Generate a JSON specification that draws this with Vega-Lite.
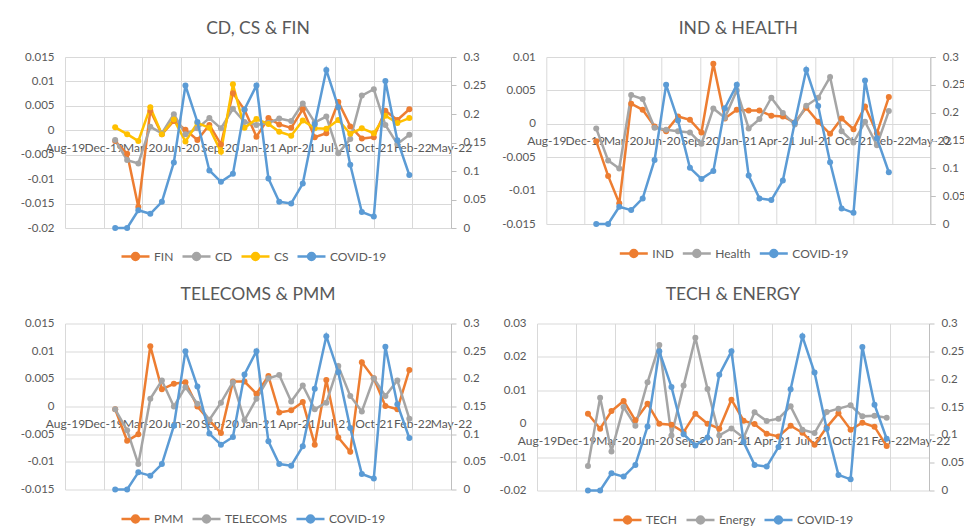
{
"$schema": "https://vega.github.io/schema/vega-lite/v6.json",
"padding": {"left": 20, "top": 19, "right": 5, "bottom": 5},
"background": "white",
"config": {
  "font": "Lato",
  "view": {"stroke": null},
  "axis": {"labelFont": "Lato", "labelFontSize": 11.5, "labelColor": "#595959", "gridColor": "#D9D9D9", "gridWidth": 1, "domain": false, "ticks": false, "tickSize": 0},
  "axisX": {"labelFontSize": 12},
  "legend": {"direction": "horizontal", "labelFont": "Lato", "labelFontSize": 12, "labelColor": "#595959", "symbolType": "M-1,0L1,0M0.25,0A0.25,0.25,0,1,1,-0.25,0A0.25,0.25,0,1,1,0.25,0", "symbolSize": 784, "symbolStrokeWidth": 2.5, "columnPadding": 3, "labelOffset": 3},
  "title": {"font": "Lato", "fontSize": 17.5, "fontWeight": "normal", "color": "#595959", "offset": 14},
  "locale": {"number": {"decimal": ".", "thousands": ",", "grouping": [3], "currency": ["$", ""], "minus": "-"}}
},
"datasets": {
  "covid": [
    {"d":"2019-12-31","s":"COVID-19","v":0},{"d":"2020-01-31","s":"COVID-19","v":0},{"d":"2020-02-29","s":"COVID-19","v":0.031},{"d":"2020-03-31","s":"COVID-19","v":0.025},{"d":"2020-04-30","s":"COVID-19","v":0.046},{"d":"2020-05-31","s":"COVID-19","v":0.115},{"d":"2020-06-30","s":"COVID-19","v":0.25},{"d":"2020-07-31","s":"COVID-19","v":0.186},{"d":"2020-08-31","s":"COVID-19","v":0.101},{"d":"2020-09-30","s":"COVID-19","v":0.081},{"d":"2020-10-31","s":"COVID-19","v":0.095},{"d":"2020-11-30","s":"COVID-19","v":0.208},{"d":"2020-12-31","s":"COVID-19","v":0.25},{"d":"2021-01-31","s":"COVID-19","v":0.087},{"d":"2021-02-28","s":"COVID-19","v":0.046},{"d":"2021-03-31","s":"COVID-19","v":0.043},{"d":"2021-04-30","s":"COVID-19","v":0.078},{"d":"2021-05-31","s":"COVID-19","v":0.182},{"d":"2021-06-30","s":"COVID-19","v":0.277},{"d":"2021-07-31","s":"COVID-19","v":0.212},{"d":"2021-08-31","s":"COVID-19","v":0.111},{"d":"2021-09-30","s":"COVID-19","v":0.028},{"d":"2021-10-31","s":"COVID-19","v":0.02},{"d":"2021-11-30","s":"COVID-19","v":0.258},{"d":"2021-12-31","s":"COVID-19","v":0.154},{"d":"2022-01-31","s":"COVID-19","v":0.093}
  ],
  "p1": [
    {"d":"2019-12-31","s":"FIN","v":-0.0022},{"d":"2020-01-31","s":"FIN","v":-0.0048},{"d":"2020-02-29","s":"FIN","v":-0.0157},{"d":"2020-03-31","s":"FIN","v":0.004},{"d":"2020-04-30","s":"FIN","v":-0.0008},{"d":"2020-05-31","s":"FIN","v":0.0019},{"d":"2020-06-30","s":"FIN","v":0.0001},{"d":"2020-07-31","s":"FIN","v":-0.002},{"d":"2020-08-31","s":"FIN","v":0.0011},{"d":"2020-09-30","s":"FIN","v":-0.0029},{"d":"2020-10-31","s":"FIN","v":0.0076},{"d":"2020-11-30","s":"FIN","v":0.0042},{"d":"2020-12-31","s":"FIN","v":-0.0013},{"d":"2021-01-31","s":"FIN","v":0.0025},{"d":"2021-02-28","s":"FIN","v":0.0012},{"d":"2021-03-31","s":"FIN","v":0.0005},{"d":"2021-04-30","s":"FIN","v":0.0043},{"d":"2021-05-31","s":"FIN","v":-0.0014},{"d":"2021-06-30","s":"FIN","v":-0.0006},{"d":"2021-07-31","s":"FIN","v":0.0058},{"d":"2021-08-31","s":"FIN","v":0.0008},{"d":"2021-09-30","s":"FIN","v":-0.0017},{"d":"2021-10-31","s":"FIN","v":-0.0014},{"d":"2021-11-30","s":"FIN","v":0.004},{"d":"2021-12-31","s":"FIN","v":0.0021},{"d":"2022-01-31","s":"FIN","v":0.0043},
    {"d":"2019-12-31","s":"CD","v":-0.002},{"d":"2020-01-31","s":"CD","v":-0.0061},{"d":"2020-02-29","s":"CD","v":-0.0068},{"d":"2020-03-31","s":"CD","v":0.0007},{"d":"2020-04-30","s":"CD","v":-0.0006},{"d":"2020-05-31","s":"CD","v":0.0033},{"d":"2020-06-30","s":"CD","v":-0.0008},{"d":"2020-07-31","s":"CD","v":0.0004},{"d":"2020-08-31","s":"CD","v":0.0025},{"d":"2020-09-30","s":"CD","v":0.0004},{"d":"2020-10-31","s":"CD","v":0.0044},{"d":"2020-11-30","s":"CD","v":0.0017},{"d":"2020-12-31","s":"CD","v":0.0011},{"d":"2021-01-31","s":"CD","v":0.0015},{"d":"2021-02-28","s":"CD","v":0.0024},{"d":"2021-03-31","s":"CD","v":0.0019},{"d":"2021-04-30","s":"CD","v":0.0055},{"d":"2021-05-31","s":"CD","v":0.0016},{"d":"2021-06-30","s":"CD","v":0.0028},{"d":"2021-07-31","s":"CD","v":-0.0047},{"d":"2021-08-31","s":"CD","v":-0.0018},{"d":"2021-09-30","s":"CD","v":0.0071},{"d":"2021-10-31","s":"CD","v":0.0084},{"d":"2021-11-30","s":"CD","v":0.0011},{"d":"2021-12-31","s":"CD","v":-0.0028},{"d":"2022-01-31","s":"CD","v":-0.0009},
    {"d":"2019-12-31","s":"CS","v":0.0006},{"d":"2020-01-31","s":"CS","v":-0.0008},{"d":"2020-02-29","s":"CS","v":-0.0022},{"d":"2020-03-31","s":"CS","v":0.0047},{"d":"2020-04-30","s":"CS","v":-0.0008},{"d":"2020-05-31","s":"CS","v":0.0022},{"d":"2020-06-30","s":"CS","v":-0.0023},{"d":"2020-07-31","s":"CS","v":0.0015},{"d":"2020-08-31","s":"CS","v":0.0005},{"d":"2020-09-30","s":"CS","v":-0.0044},{"d":"2020-10-31","s":"CS","v":0.0094},{"d":"2020-11-30","s":"CS","v":0.0005},{"d":"2020-12-31","s":"CS","v":0.0023},{"d":"2021-01-31","s":"CS","v":0.0013},{"d":"2021-02-28","s":"CS","v":-0.0003},{"d":"2021-03-31","s":"CS","v":-0.0011},{"d":"2021-04-30","s":"CS","v":0.002},{"d":"2021-05-31","s":"CS","v":0.0004},{"d":"2021-06-30","s":"CS","v":0.0003},{"d":"2021-07-31","s":"CS","v":0.0021},{"d":"2021-08-31","s":"CS","v":-0.0007},{"d":"2021-09-30","s":"CS","v":0.0004},{"d":"2021-10-31","s":"CS","v":-0.0006},{"d":"2021-11-30","s":"CS","v":0.003},{"d":"2021-12-31","s":"CS","v":0.0015},{"d":"2022-01-31","s":"CS","v":0.0025}
  ],
  "p2": [
    {"d":"2019-12-31","s":"IND","v":-0.0026},{"d":"2020-01-31","s":"IND","v":-0.0078},{"d":"2020-02-29","s":"IND","v":-0.0119},{"d":"2020-03-31","s":"IND","v":0.003},{"d":"2020-04-30","s":"IND","v":0.0021},{"d":"2020-05-31","s":"IND","v":-0.0004},{"d":"2020-06-30","s":"IND","v":-0.0011},{"d":"2020-07-31","s":"IND","v":0.0011},{"d":"2020-08-31","s":"IND","v":0.0006},{"d":"2020-09-30","s":"IND","v":-0.0013},{"d":"2020-10-31","s":"IND","v":0.009},{"d":"2020-11-30","s":"IND","v":0.0008},{"d":"2020-12-31","s":"IND","v":0.0021},{"d":"2021-01-31","s":"IND","v":0.002},{"d":"2021-02-28","s":"IND","v":0.002},{"d":"2021-03-31","s":"IND","v":0.0012},{"d":"2021-04-30","s":"IND","v":0.0011},{"d":"2021-05-31","s":"IND","v":0.0002},{"d":"2021-06-30","s":"IND","v":0.0024},{"d":"2021-07-31","s":"IND","v":0.0003},{"d":"2021-08-31","s":"IND","v":-0.0015},{"d":"2021-09-30","s":"IND","v":0.0008},{"d":"2021-10-31","s":"IND","v":-0.0008},{"d":"2021-11-30","s":"IND","v":0.0026},{"d":"2021-12-31","s":"IND","v":-0.0014},{"d":"2022-01-31","s":"IND","v":0.004},
    {"d":"2019-12-31","s":"Health","v":-0.0007},{"d":"2020-01-31","s":"Health","v":-0.0055},{"d":"2020-02-29","s":"Health","v":-0.0067},{"d":"2020-03-31","s":"Health","v":0.0043},{"d":"2020-04-30","s":"Health","v":0.0037},{"d":"2020-05-31","s":"Health","v":-0.0006},{"d":"2020-06-30","s":"Health","v":-0.0009},{"d":"2020-07-31","s":"Health","v":-0.0011},{"d":"2020-08-31","s":"Health","v":-0.0013},{"d":"2020-09-30","s":"Health","v":-0.003},{"d":"2020-10-31","s":"Health","v":0.0023},{"d":"2020-11-30","s":"Health","v":0.0009},{"d":"2020-12-31","s":"Health","v":0.005},{"d":"2021-01-31","s":"Health","v":-0.0007},{"d":"2021-02-28","s":"Health","v":0.0007},{"d":"2021-03-31","s":"Health","v":0.0039},{"d":"2021-04-30","s":"Health","v":0.0016},{"d":"2021-05-31","s":"Health","v":-0.0001},{"d":"2021-06-30","s":"Health","v":0.0027},{"d":"2021-07-31","s":"Health","v":0.0039},{"d":"2021-08-31","s":"Health","v":0.007},{"d":"2021-09-30","s":"Health","v":-0.0011},{"d":"2021-10-31","s":"Health","v":-0.0028},{"d":"2021-11-30","s":"Health","v":0.0003},{"d":"2021-12-31","s":"Health","v":-0.0032},{"d":"2022-01-31","s":"Health","v":0.0019}
  ],
  "p3": [
    {"d":"2019-12-31","s":"PMM","v":-0.0005},{"d":"2020-01-31","s":"PMM","v":-0.0062},{"d":"2020-02-29","s":"PMM","v":-0.005},{"d":"2020-03-31","s":"PMM","v":0.0109},{"d":"2020-04-30","s":"PMM","v":0.0031},{"d":"2020-05-31","s":"PMM","v":0.0041},{"d":"2020-06-30","s":"PMM","v":0.0044},{"d":"2020-07-31","s":"PMM","v":0.0},{"d":"2020-08-31","s":"PMM","v":-0.0025},{"d":"2020-09-30","s":"PMM","v":-0.0048},{"d":"2020-10-31","s":"PMM","v":0.0045},{"d":"2020-11-30","s":"PMM","v":0.0045},{"d":"2020-12-31","s":"PMM","v":0.0023},{"d":"2021-01-31","s":"PMM","v":0.0055},{"d":"2021-02-28","s":"PMM","v":-0.0011},{"d":"2021-03-31","s":"PMM","v":-0.0007},{"d":"2021-04-30","s":"PMM","v":0.0008},{"d":"2021-05-31","s":"PMM","v":-0.0069},{"d":"2021-06-30","s":"PMM","v":0.0048},{"d":"2021-07-31","s":"PMM","v":-0.0056},{"d":"2021-08-31","s":"PMM","v":-0.0082},{"d":"2021-09-30","s":"PMM","v":0.008},{"d":"2021-10-31","s":"PMM","v":0.0051},{"d":"2021-11-30","s":"PMM","v":0.0001},{"d":"2021-12-31","s":"PMM","v":-0.0005},{"d":"2022-01-31","s":"PMM","v":0.0066},
    {"d":"2019-12-31","s":"TELECOMS","v":-0.0005},{"d":"2020-01-31","s":"TELECOMS","v":-0.0043},{"d":"2020-02-29","s":"TELECOMS","v":-0.0104},{"d":"2020-03-31","s":"TELECOMS","v":0.0014},{"d":"2020-04-30","s":"TELECOMS","v":0.0047},{"d":"2020-05-31","s":"TELECOMS","v":0.0},{"d":"2020-06-30","s":"TELECOMS","v":0.0035},{"d":"2020-07-31","s":"TELECOMS","v":0.0005},{"d":"2020-08-31","s":"TELECOMS","v":-0.0024},{"d":"2020-09-30","s":"TELECOMS","v":0.0007},{"d":"2020-10-31","s":"TELECOMS","v":0.0044},{"d":"2020-11-30","s":"TELECOMS","v":-0.0025},{"d":"2020-12-31","s":"TELECOMS","v":0.0014},{"d":"2021-01-31","s":"TELECOMS","v":0.0051},{"d":"2021-02-28","s":"TELECOMS","v":0.0057},{"d":"2021-03-31","s":"TELECOMS","v":0.0009},{"d":"2021-04-30","s":"TELECOMS","v":0.0038},{"d":"2021-05-31","s":"TELECOMS","v":-0.0005},{"d":"2021-06-30","s":"TELECOMS","v":0.0007},{"d":"2021-07-31","s":"TELECOMS","v":0.0073},{"d":"2021-08-31","s":"TELECOMS","v":0.0019},{"d":"2021-09-30","s":"TELECOMS","v":-0.0009},{"d":"2021-10-31","s":"TELECOMS","v":0.0051},{"d":"2021-11-30","s":"TELECOMS","v":0.0019},{"d":"2021-12-31","s":"TELECOMS","v":0.0047},{"d":"2022-01-31","s":"TELECOMS","v":-0.0022}
  ],
  "p4": [
    {"d":"2019-12-31","s":"TECH","v":0.003},{"d":"2020-01-31","s":"TECH","v":-0.0015},{"d":"2020-02-29","s":"TECH","v":0.0038},{"d":"2020-03-31","s":"TECH","v":0.0068},{"d":"2020-04-30","s":"TECH","v":0.001},{"d":"2020-05-31","s":"TECH","v":0.006},{"d":"2020-06-30","s":"TECH","v":0.0},{"d":"2020-07-31","s":"TECH","v":-0.0003},{"d":"2020-08-31","s":"TECH","v":-0.0025},{"d":"2020-09-30","s":"TECH","v":0.003},{"d":"2020-10-31","s":"TECH","v":0.0},{"d":"2020-11-30","s":"TECH","v":-0.0015},{"d":"2020-12-31","s":"TECH","v":0.0072},{"d":"2021-01-31","s":"TECH","v":0.0009},{"d":"2021-02-28","s":"TECH","v":-0.0001},{"d":"2021-03-31","s":"TECH","v":-0.003},{"d":"2021-04-30","s":"TECH","v":-0.0038},{"d":"2021-05-31","s":"TECH","v":-0.0006},{"d":"2021-06-30","s":"TECH","v":-0.0027},{"d":"2021-07-31","s":"TECH","v":-0.0063},{"d":"2021-08-31","s":"TECH","v":-0.0011},{"d":"2021-09-30","s":"TECH","v":0.0031},{"d":"2021-10-31","s":"TECH","v":-0.0018},{"d":"2021-11-30","s":"TECH","v":0.0003},{"d":"2021-12-31","s":"TECH","v":-0.0009},{"d":"2022-01-31","s":"TECH","v":-0.0067},
    {"d":"2019-12-31","s":"Energy","v":-0.0127},{"d":"2020-01-31","s":"Energy","v":0.0078},{"d":"2020-02-29","s":"Energy","v":-0.0083},{"d":"2020-03-31","s":"Energy","v":0.005},{"d":"2020-04-30","s":"Energy","v":-0.0006},{"d":"2020-05-31","s":"Energy","v":0.0124},{"d":"2020-06-30","s":"Energy","v":0.0236},{"d":"2020-07-31","s":"Energy","v":-0.0035},{"d":"2020-08-31","s":"Energy","v":0.0114},{"d":"2020-09-30","s":"Energy","v":0.0257},{"d":"2020-10-31","s":"Energy","v":0.0104},{"d":"2020-11-30","s":"Energy","v":-0.0035},{"d":"2020-12-31","s":"Energy","v":-0.0014},{"d":"2021-01-31","s":"Energy","v":-0.0042},{"d":"2021-02-28","s":"Energy","v":0.0034},{"d":"2021-03-31","s":"Energy","v":0.0008},{"d":"2021-04-30","s":"Energy","v":0.0015},{"d":"2021-05-31","s":"Energy","v":0.0052},{"d":"2021-06-30","s":"Energy","v":-0.0018},{"d":"2021-07-31","s":"Energy","v":-0.0028},{"d":"2021-08-31","s":"Energy","v":0.0035},{"d":"2021-09-30","s":"Energy","v":0.0045},{"d":"2021-10-31","s":"Energy","v":0.0055},{"d":"2021-11-30","s":"Energy","v":0.0022},{"d":"2021-12-31","s":"Energy","v":0.0024},{"d":"2022-01-31","s":"Energy","v":0.0018}
  ]
},
"spacing": 20.5,
"resolve": {"scale": {"color": "independent"}, "legend": {"color": "independent"}},
"vconcat": [
  {
    "bounds": "flush",
    "spacing": 95.3,
    "resolve": {"scale": {"color": "independent"}, "legend": {"color": "independent"}},
    "hconcat": [
      {
        "width": 386, "height": 171,
        "title": "CD, CS & FIN",
        "resolve": {"scale": {"y": "independent"}},
        "encoding": {
          "x": {"field": "d", "type": "temporal", "scale": {"type": "utc", "domain": [{"year": 2019, "month": 8, "date": 23, "utc": true}, {"year": 2022, "month": 5, "date": 19, "utc": true}]}, "axis": {"title": null, "grid": true, "labelExpr": "utcFormat(datum.value, '%b-%y')", "labelOverlap": false, "labelFlush": false, "labelPadding": 12, "offset": -97.7, "values": [{"year": 2019, "month": 8, "date": 23, "utc": true}, {"year": 2019, "month": 12, "date": 1, "utc": true}, {"year": 2020, "month": 3, "date": 10, "utc": true}, {"year": 2020, "month": 6, "date": 18, "utc": true}, {"year": 2020, "month": 9, "date": 26, "utc": true}, {"year": 2021, "month": 1, "date": 4, "utc": true}, {"year": 2021, "month": 4, "date": 14, "utc": true}, {"year": 2021, "month": 7, "date": 23, "utc": true}, {"year": 2021, "month": 10, "date": 31, "utc": true}, {"year": 2022, "month": 2, "date": 8, "utc": true}, {"year": 2022, "month": 5, "date": 19, "utc": true}]}},
          "color": {"field": "s", "type": "nominal", "scale": {"domain": ["FIN", "CD", "CS", "COVID-19"], "range": ["#ED7D31", "#A5A5A5", "#FFC000", "#5B9BD5"]}, "legend": {"title": null, "orient": "none", "legendX": 55, "legendY": 184}}
        },
        "layer": [
          {
            "data": {"name": "p1"},
            "mark": {"type": "line", "strokeWidth": 2.5, "point": {"filled": true, "size": 36}},
            "encoding": {
              "y": {"field": "v", "type": "quantitative", "scale": {"domain": [-0.02, 0.015], "nice": false, "zero": false}, "axis": {"title": null, "orient": "left", "grid": true, "labelExpr": "format(datum.value, '~g')", "labelPadding": 11, "values": [-0.02, -0.015, -0.01, -0.005, 0, 0.005, 0.01, 0.015]}}
            }
          },
          {
            "data": {"name": "covid"},
            "mark": {"type": "line", "strokeWidth": 2.5, "point": {"filled": true, "size": 36}},
            "encoding": {
              "y": {"field": "v", "type": "quantitative", "scale": {"domain": [0, 0.3], "nice": false}, "axis": {"title": null, "orient": "right", "grid": false, "domain": true, "domainColor": "#BFBFBF", "ticks": true, "tickColor": "#BFBFBF", "tickSize": 5, "labelPadding": 7, "labelExpr": "format(datum.value, '~g')", "values": [0, 0.05, 0.1, 0.15, 0.2, 0.25, 0.3]}}
            }
          }
        ]
      },
      {
        "width": 384, "height": 167,
        "title": "IND & HEALTH",
        "resolve": {"scale": {"y": "independent"}},
        "encoding": {
          "x": {"field": "d", "type": "temporal", "scale": {"type": "utc", "domain": [{"year": 2019, "month": 8, "date": 23, "utc": true}, {"year": 2022, "month": 5, "date": 19, "utc": true}]}, "axis": {"title": null, "grid": true, "labelExpr": "utcFormat(datum.value, '%b-%y')", "labelOverlap": false, "labelFlush": false, "labelPadding": 12, "offset": -100.2, "values": [{"year": 2019, "month": 8, "date": 23, "utc": true}, {"year": 2019, "month": 12, "date": 1, "utc": true}, {"year": 2020, "month": 3, "date": 10, "utc": true}, {"year": 2020, "month": 6, "date": 18, "utc": true}, {"year": 2020, "month": 9, "date": 26, "utc": true}, {"year": 2021, "month": 1, "date": 4, "utc": true}, {"year": 2021, "month": 4, "date": 14, "utc": true}, {"year": 2021, "month": 7, "date": 23, "utc": true}, {"year": 2021, "month": 10, "date": 31, "utc": true}, {"year": 2022, "month": 2, "date": 8, "utc": true}, {"year": 2022, "month": 5, "date": 19, "utc": true}]}},
          "color": {"field": "s", "type": "nominal", "scale": {"domain": ["IND", "Health", "COVID-19"], "range": ["#ED7D31", "#A5A5A5", "#5B9BD5"]}, "legend": {"title": null, "orient": "none", "legendX": 72, "legendY": 181}}
        },
        "layer": [
          {
            "data": {"name": "p2"},
            "mark": {"type": "line", "strokeWidth": 2.5, "point": {"filled": true, "size": 36}},
            "encoding": {
              "y": {"field": "v", "type": "quantitative", "scale": {"domain": [-0.015, 0.01], "nice": false, "zero": false}, "axis": {"title": null, "orient": "left", "grid": true, "labelExpr": "format(datum.value, '~g')", "labelPadding": 11, "values": [-0.015, -0.01, -0.005, 0, 0.005, 0.01]}}
            }
          },
          {
            "data": {"name": "covid"},
            "mark": {"type": "line", "strokeWidth": 2.5, "point": {"filled": true, "size": 36}},
            "encoding": {
              "y": {"field": "v", "type": "quantitative", "scale": {"domain": [0, 0.3], "nice": false}, "axis": {"title": null, "orient": "right", "grid": false, "domain": true, "domainColor": "#BFBFBF", "ticks": true, "tickColor": "#BFBFBF", "tickSize": 5, "labelPadding": 7, "labelExpr": "format(datum.value, '~g')", "values": [0, 0.05, 0.1, 0.15, 0.2, 0.25, 0.3]}}
            }
          }
        ]
      }
    ]
  },
  {
    "bounds": "flush",
    "spacing": 86,
    "resolve": {"scale": {"color": "independent"}, "legend": {"color": "independent"}},
    "hconcat": [
      {
        "width": 386, "height": 166,
        "title": "TELECOMS & PMM",
        "resolve": {"scale": {"y": "independent"}},
        "encoding": {
          "x": {"field": "d", "type": "temporal", "scale": {"type": "utc", "domain": [{"year": 2019, "month": 8, "date": 23, "utc": true}, {"year": 2022, "month": 5, "date": 19, "utc": true}]}, "axis": {"title": null, "grid": true, "labelExpr": "utcFormat(datum.value, '%b-%y')", "labelOverlap": false, "labelFlush": false, "labelPadding": 12, "offset": -83, "values": [{"year": 2019, "month": 8, "date": 23, "utc": true}, {"year": 2019, "month": 12, "date": 1, "utc": true}, {"year": 2020, "month": 3, "date": 10, "utc": true}, {"year": 2020, "month": 6, "date": 18, "utc": true}, {"year": 2020, "month": 9, "date": 26, "utc": true}, {"year": 2021, "month": 1, "date": 4, "utc": true}, {"year": 2021, "month": 4, "date": 14, "utc": true}, {"year": 2021, "month": 7, "date": 23, "utc": true}, {"year": 2021, "month": 10, "date": 31, "utc": true}, {"year": 2022, "month": 2, "date": 8, "utc": true}, {"year": 2022, "month": 5, "date": 19, "utc": true}]}},
          "color": {"field": "s", "type": "nominal", "scale": {"domain": ["PMM", "TELECOMS", "COVID-19"], "range": ["#ED7D31", "#A5A5A5", "#5B9BD5"]}, "legend": {"title": null, "orient": "none", "legendX": 55, "legendY": 180}}
        },
        "layer": [
          {
            "data": {"name": "p3"},
            "mark": {"type": "line", "strokeWidth": 2.5, "point": {"filled": true, "size": 36}},
            "encoding": {
              "y": {"field": "v", "type": "quantitative", "scale": {"domain": [-0.015, 0.015], "nice": false, "zero": false}, "axis": {"title": null, "orient": "left", "grid": true, "labelExpr": "format(datum.value, '~g')", "labelPadding": 11, "values": [-0.015, -0.01, -0.005, 0, 0.005, 0.01, 0.015]}}
            }
          },
          {
            "data": {"name": "covid"},
            "mark": {"type": "line", "strokeWidth": 2.5, "point": {"filled": true, "size": 36}},
            "encoding": {
              "y": {"field": "v", "type": "quantitative", "scale": {"domain": [0, 0.3], "nice": false}, "axis": {"title": null, "orient": "right", "grid": false, "domain": true, "domainColor": "#BFBFBF", "ticks": true, "tickColor": "#BFBFBF", "tickSize": 5, "labelPadding": 7, "labelExpr": "format(datum.value, '~g')", "values": [0, 0.05, 0.1, 0.15, 0.2, 0.25, 0.3]}}
            }
          }
        ]
      },
      {
        "width": 392, "height": 167,
        "title": "TECH & ENERGY",
        "resolve": {"scale": {"y": "independent"}},
        "encoding": {
          "x": {"field": "d", "type": "temporal", "scale": {"type": "utc", "domain": [{"year": 2019, "month": 8, "date": 23, "utc": true}, {"year": 2022, "month": 5, "date": 19, "utc": true}]}, "axis": {"title": null, "grid": true, "labelExpr": "utcFormat(datum.value, '%b-%y')", "labelOverlap": false, "labelFlush": false, "labelPadding": 12, "offset": -66.8, "values": [{"year": 2019, "month": 8, "date": 23, "utc": true}, {"year": 2019, "month": 12, "date": 1, "utc": true}, {"year": 2020, "month": 3, "date": 10, "utc": true}, {"year": 2020, "month": 6, "date": 18, "utc": true}, {"year": 2020, "month": 9, "date": 26, "utc": true}, {"year": 2021, "month": 1, "date": 4, "utc": true}, {"year": 2021, "month": 4, "date": 14, "utc": true}, {"year": 2021, "month": 7, "date": 23, "utc": true}, {"year": 2021, "month": 10, "date": 31, "utc": true}, {"year": 2022, "month": 2, "date": 8, "utc": true}, {"year": 2022, "month": 5, "date": 19, "utc": true}]}},
          "color": {"field": "s", "type": "nominal", "scale": {"domain": ["TECH", "Energy", "COVID-19"], "range": ["#ED7D31", "#A5A5A5", "#5B9BD5"]}, "legend": {"title": null, "orient": "none", "legendX": 75, "legendY": 181}}
        },
        "layer": [
          {
            "data": {"name": "p4"},
            "mark": {"type": "line", "strokeWidth": 2.5, "point": {"filled": true, "size": 36}},
            "encoding": {
              "y": {"field": "v", "type": "quantitative", "scale": {"domain": [-0.02, 0.03], "nice": false, "zero": false}, "axis": {"title": null, "orient": "left", "grid": true, "labelExpr": "format(datum.value, '~g')", "labelPadding": 11, "values": [-0.02, -0.01, 0, 0.01, 0.02, 0.03]}}
            }
          },
          {
            "data": {"name": "covid"},
            "mark": {"type": "line", "strokeWidth": 2.5, "point": {"filled": true, "size": 36}},
            "encoding": {
              "y": {"field": "v", "type": "quantitative", "scale": {"domain": [0, 0.3], "nice": false}, "axis": {"title": null, "orient": "right", "grid": false, "domain": true, "domainColor": "#BFBFBF", "ticks": true, "tickColor": "#BFBFBF", "tickSize": 5, "labelPadding": 7, "labelExpr": "format(datum.value, '~g')", "values": [0, 0.05, 0.1, 0.15, 0.2, 0.25, 0.3]}}
            }
          }
        ]
      }
    ]
  }
]
}
